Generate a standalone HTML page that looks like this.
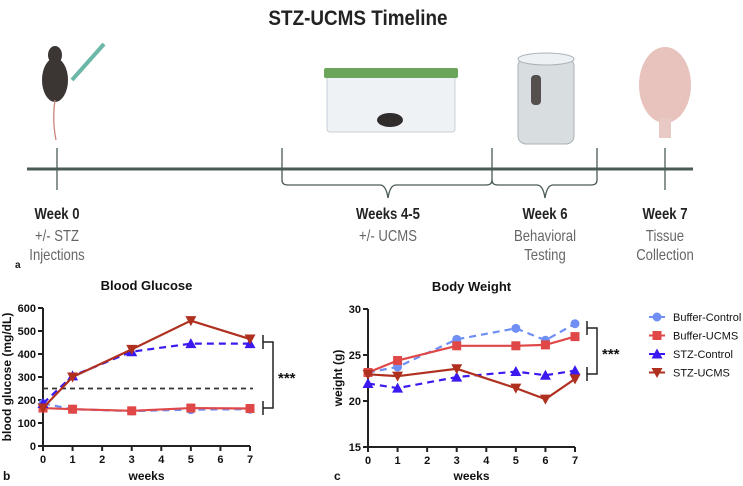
<!DOCTYPE html>
<html><head><meta charset="utf-8">
<style>
html,body{margin:0;padding:0;background:#fff;}
svg{display:block;font-family:"Liberation Sans",sans-serif;}
</style></head>
<body>
<svg id="fig" width="743" height="486" viewBox="0 0 743 486" xmlns="http://www.w3.org/2000/svg">
  <text x="358" y="25" text-anchor="middle" font-size="21" font-weight="bold" fill="#222" transform="translate(358,0) scale(0.9,1) translate(-358,0)">STZ-UCMS Timeline</text>
  <g>
    <ellipse cx="55" cy="80" rx="13" ry="22" fill="#3b3634"/>
    <ellipse cx="55" cy="55" rx="7" ry="9" fill="#3b3634"/>
    <path d="M55 100 Q52 120 56 140" stroke="#c9857a" stroke-width="1.3" fill="none"/>
    <line x1="72" y1="80" x2="104" y2="44" stroke="#6bb8a8" stroke-width="4"/>
  </g>
  <g>
    <rect x="327" y="74" width="128" height="58" rx="3" fill="#eef2f5" stroke="#c8d0d6"/>
    <rect x="324" y="68" width="134" height="10" rx="2" fill="#6aa55a"/>
    <ellipse cx="390" cy="120" rx="13" ry="7" fill="#2f2c2b"/>
  </g>
  <g>
    <rect x="518" y="58" width="56" height="86" rx="8" fill="#d8dde0" stroke="#aab2b8"/>
    <ellipse cx="546" cy="59" rx="28" ry="6" fill="#eef1f3" stroke="#aab2b8"/>
    <rect x="531" y="75" width="10" height="30" rx="4" fill="#55504e"/>
  </g>
  <g>
    <ellipse cx="665" cy="85" rx="26" ry="38" fill="#e8c2bd"/>
    <rect x="659" y="118" width="12" height="20" fill="#e8c9c4"/>
  </g>
  <g stroke="#4a5a55" fill="none">
    <line x1="27" y1="169" x2="693" y2="169" stroke-width="3"/>
    <line x1="57" y1="148" x2="57" y2="190" stroke-width="1.3"/>
    <line x1="665" y1="148" x2="665" y2="190" stroke-width="1.3"/>
    <path d="M282 148 V180 Q282 185 288 185 H380 Q386 185 388 198 Q390 185 396 185 H486 Q492 185 492 180 V148" stroke-width="1.3"/>
    <path d="M492 180 Q492 185 498 185 H537 Q543 185 545 198 Q547 185 553 185 H591 Q597 185 597 180 V148" stroke-width="1.3"/>
  </g>
  <g font-size="16" text-anchor="middle" fill="#666">
    <g transform="translate(57,0) scale(0.82,1)">
      <text x="0" y="219" font-weight="bold" fill="#222">Week 0</text>
      <text x="0" y="241">+/- STZ</text>
      <text x="0" y="260">Injections</text>
    </g>
    <g transform="translate(388,0) scale(0.82,1)">
      <text x="0" y="219" font-weight="bold" fill="#222">Weeks 4-5</text>
      <text x="0" y="241">+/- UCMS</text>
    </g>
    <g transform="translate(545,0) scale(0.82,1)">
      <text x="0" y="219" font-weight="bold" fill="#222">Week 6</text>
      <text x="0" y="241">Behavioral</text>
      <text x="0" y="260">Testing</text>
    </g>
    <g transform="translate(665,0) scale(0.82,1)">
      <text x="0" y="219" font-weight="bold" fill="#222">Week 7</text>
      <text x="0" y="241">Tissue</text>
      <text x="0" y="260">Collection</text>
    </g>
  </g>
  <text x="15" y="268" font-size="10" font-weight="bold" fill="#111">a</text>
  <g id="charts"></g>
</svg>
<script>
// ---- Blood glucose data ----
const gWeeks = [0, 1, 3, 5, 7];
const gBufCtrl = [185, 160, 152, 158, 160];
const gBufUcms = [165, 160, 153, 165, 163];
const gStzCtrl = [185, 305, 410, 445, 445];
const gStzUcms = [165, 300, 420, 545, 465];
const gYTicks = [0, 100, 200, 300, 400, 500, 600];
const gXTicks = [0, 1, 2, 3, 4, 5, 6, 7];
const gThreshold = 250;
// ---- Body weight data ----
const wWeeks = [0, 1, 3, 5, 6, 7];
const wBufCtrl = [23.1, 23.7, 26.7, 27.9, 26.6, 28.4];
const wBufUcms = [23.1, 24.4, 26.0, 26.0, 26.1, 27.0];
const wStzCtrl = [21.9, 21.4, 22.6, 23.2, 22.8, 23.3];
const wStzUcms = [22.9, 22.7, 23.5, 21.4, 20.2, 22.4];
const wYTicks = [15, 20, 25, 30];
const wXTicks = [0, 1, 2, 3, 4, 5, 6, 7];
const legendNames = ['Buffer-Control', 'Buffer-UCMS', 'STZ-Control', 'STZ-UCMS'];

const NS = 'http://www.w3.org/2000/svg';
const root = document.getElementById('charts');
function mk(tag, attrs, parent) {
  const e = document.createElementNS(NS, tag);
  for (const k in attrs) e.setAttribute(k, attrs[k]);
  (parent || root).appendChild(e);
  return e;
}
const styles = [
  {color: '#6f8ff5', dash: '7,5', marker: 'circle'},
  {color: '#e04848', dash: '', marker: 'square'},
  {color: '#3a1af0', dash: '7,5', marker: 'tri'},
  {color: '#b0301f', dash: '', marker: 'itri'}
];
function marker(g, type, x, y, color, s) {
  let m;
  if (type === 'circle') m = mk('circle', {cx: x, cy: y, r: s, fill: color}, g);
  else if (type === 'square') m = mk('rect', {x: x - s, y: y - s, width: 2 * s, height: 2 * s, fill: color}, g);
  else if (type === 'tri') m = mk('path', {d: `M${x} ${y - s - 1}L${x + s + 1} ${y + s}L${x - s - 1} ${y + s}Z`, fill: color}, g);
  else m = mk('path', {d: `M${x} ${y + s + 1}L${x + s + 1} ${y - s}L${x - s - 1} ${y - s}Z`, fill: color}, g);
  
  
}
function chart(cfg) {
  const g = mk('g', {});
  
  
  const sx = v => cfg.x0 + (v - cfg.xmin) / (cfg.xmax - cfg.xmin) * (cfg.x1 - cfg.x0);
  const sy = v => cfg.y0 - (v - cfg.ymin) / (cfg.ymax - cfg.ymin) * (cfg.y0 - cfg.y1);
  const ax = mk('path', {d: `M${cfg.x0} ${cfg.y1}V${cfg.y0}H${cfg.x1}`, stroke: '#222', 'stroke-width': 2, fill: 'none'}, g);
  
  
  cfg.yTicks.forEach(t => {
    mk('line', {x1: cfg.x0 - 5, x2: cfg.x0, y1: sy(t), y2: sy(t), stroke: '#222', 'stroke-width': 2}, g);
    const tx = mk('text', {x: cfg.x0 - 7, y: sy(t) + 4, 'text-anchor': 'end', 'font-size': 11, 'font-weight': 'bold', fill: '#111'}, g);
    tx.textContent = t;
    
    
  });
  cfg.xTicks.forEach(t => {
    mk('line', {x1: sx(t), x2: sx(t), y1: cfg.y0, y2: cfg.y0 + 5, stroke: '#222', 'stroke-width': 2}, g);
    const tx = mk('text', {x: sx(t), y: cfg.y0 + 17, 'text-anchor': 'middle', 'font-size': 11, 'font-weight': 'bold', fill: '#111'}, g);
    tx.textContent = t;
    
    
  });
  if (cfg.threshold !== undefined) {
    const th = mk('line', {x1: cfg.x0, x2: sx(7.1), y1: sy(cfg.threshold), y2: sy(cfg.threshold), stroke: '#333', 'stroke-width': 1.8, 'stroke-dasharray': '5,4'}, g);
    
    
  }
  cfg.series.forEach((vals, i) => {
    const st = styles[i];
    const sg = mk('g', {}, g);
    
    
    const d = vals.map((v, j) => (j ? 'L' : 'M') + sx(cfg.weeks[j]) + ' ' + sy(v)).join('');
    mk('path', {d: d, stroke: st.color, 'stroke-width': 2.2, fill: 'none', 'stroke-dasharray': st.dash}, sg);
    vals.forEach((v, j) => marker(sg, st.marker, sx(cfg.weeks[j]), sy(v), st.color, 4.5));
  });
  const t = mk('text', {x: (cfg.x0 + cfg.x1) / 2, y: cfg.y1 - 18, 'text-anchor': 'middle', 'font-size': 13, 'font-weight': 'bold', fill: '#111'}, g);
  t.textContent = cfg.title;
  
  
  const xl = mk('text', {x: (cfg.x0 + cfg.x1) / 2, y: 480, 'text-anchor': 'middle', 'font-size': 12, 'font-weight': 'bold', fill: '#111'}, g);
  xl.textContent = 'weeks';
  
  
  const cy = (cfg.y0 + cfg.y1) / 2;
  const yl = mk('text', {x: cfg.ylx, y: cy, 'text-anchor': 'middle', 'font-size': 12, 'font-weight': 'bold', fill: '#111', transform: `rotate(-90 ${cfg.ylx} ${cy})`}, g);
  yl.textContent = cfg.ylabel;
  
  
  const pl = mk('text', {x: cfg.px, y: 480, 'font-size': 12, 'font-weight': 'bold', fill: '#111'}, g);
  pl.textContent = cfg.panel;
  
  
  const b = cfg.bracket;
  const bp = mk('path', {d: `M${b.x - 10} ${b.ya - 7}V${b.ya + 7}M${b.x - 10} ${b.ya}H${b.x}V${b.yb}H${b.x - 10}M${b.x - 10} ${b.yb - 7}V${b.yb + 7}`, stroke: '#222', 'stroke-width': 1.5, fill: 'none'}, g);
  
  
  const st = mk('text', {x: b.x + 5, y: (b.ya + b.yb) / 2 + 8, 'font-size': 15, 'font-weight': 'bold', fill: '#111'}, g);
  st.textContent = '***';
  
  
}
chart({name: 'blood-glucose-chart', title: 'Blood Glucose', x0: 43, x1: 250, y0: 446, y1: 308, xmin: 0, xmax: 7, ymin: 0, ymax: 600,
  weeks: gWeeks, series: [gBufCtrl, gBufUcms, gStzCtrl, gStzUcms], yTicks: gYTicks, xTicks: gXTicks, threshold: gThreshold,
  ylabel: 'blood glucose (mg/dL)', ylx: 11, panel: 'b', px: 3, bracket: {x: 273, ya: 342, yb: 408}});
chart({name: 'body-weight-chart', title: 'Body Weight', x0: 368, x1: 575, y0: 447, y1: 309, xmin: 0, xmax: 7, ymin: 15, ymax: 30,
  weeks: wWeeks, series: [wBufCtrl, wBufUcms, wStzCtrl, wStzUcms], yTicks: wYTicks, xTicks: wXTicks,
  ylabel: 'weight (g)', ylx: 342, panel: 'c', px: 334, bracket: {x: 597, ya: 328, yb: 374}});
const lg = mk('g', {});


legendNames.forEach((n, i) => {
  const y = 317 + i * 18.5;
  const eg = mk('g', {}, lg);
  
  
  mk('line', {x1: 649, x2: 665, y1: y, y2: y, stroke: styles[i].color, 'stroke-width': 2}, eg);
  marker(eg, styles[i].marker, 657, y, styles[i].color, 4.5);
  const t = mk('text', {x: 673, y: y + 4, 'font-size': 11, fill: '#111'}, eg);
  t.textContent = n;
});
</script>
</body></html>
